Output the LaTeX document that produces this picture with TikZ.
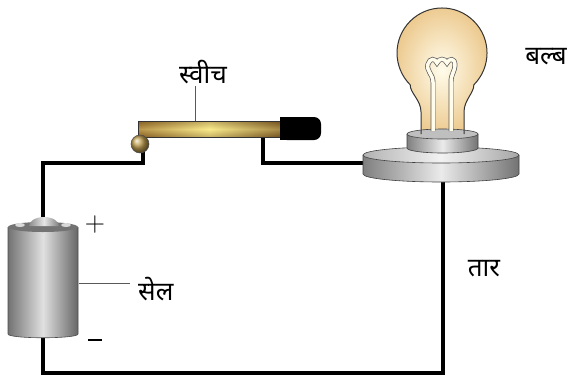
\documentclass[tikz,border=0pt]{standalone}
\usepackage{fontspec}
\newfontfamily\deva[Script=Devanagari]{Noto Sans}
\usetikzlibrary{shapes.geometric}
\definecolor{glowin}{RGB}{255,252,235}
\definecolor{glowout}{RGB}{236,200,140}
\definecolor{brass}{RGB}{150,105,40}
\definecolor{brasslight}{RGB}{250,235,140}
\tikzset{
  wire/.style={line width=4pt, black, line cap=rect},
  leader/.style={line width=0.8pt, gray!70!black},
  label/.style={font=\deva\fontsize{26}{30}\selectfont, inner sep=0pt},
  sign/.style={font=\fontsize{28}{30}\selectfont, inner sep=0pt},
  filament/.style={draw=black!65, line width=0.7pt, double=glowin, double distance=3.5pt},
}
\begin{document}
\begin{tikzpicture}[x=1pt, y=-1pt]
\useasboundingbox (0,0) rectangle (573,376);

% circuit wires
\coordinate (cellTop) at (43,222);
\coordinate (cellBot) at (43,338);
\coordinate (pivot) at (143,150);
\coordinate (contact) at (263,137);
\coordinate (baseL) at (365,163);
\coordinate (baseB) at (443,182);
\draw[wire] (cellTop) -- (43,163) -- (143,163) -- (pivot);
\draw[wire] (contact) -- (263,163) -- (baseL);
\draw[wire] (baseB) -- (443,373) -- (43,373) -- (cellBot);

% cell
\shade[left color=black!55, right color=black!60, middle color=black!12]
  (8,227) -- (8,334) .. controls (8,339) and (78,339) .. (78,334) -- (78,227) -- cycle;
\draw[black!70, line width=0.6pt]
  (8,227) -- (8,334) .. controls (8,339) and (78,339) .. (78,334) -- (78,227);
\fill[black!55] (43,227) ellipse[x radius=35, y radius=5];
\shade[left color=black!45, right color=black!50, middle color=black!10]
  (29,226) arc[start angle=180, end angle=360, x radius=15, y radius=9] -- cycle;
\fill[white!85!black] (20,225) ellipse[x radius=5, y radius=2];
\fill[white!85!black] (66,225) ellipse[x radius=5, y radius=2];
\node[sign] (plus) at (95,225) {+};
\node[sign] (minus) at (95,342) {\rule[0.3ex]{0.5em}{2pt}};
\coordinate (cellSide) at (79,283);
\node[label, anchor=west] (cell) at (138,289) {सेल};
\draw[leader] (cellSide) -- (130,283);

% switch
\shade[left color=brass, right color=brass!80!black, middle color=brasslight]
  (138,121) rectangle (281,137);
\shade[top color=brass!70!black, bottom color=brass!70!black, middle color=brasslight, opacity=0.35]
  (138,121) rectangle (281,137);
\draw[black!80, line width=0.6pt] (138,121) rectangle (281,137);
\shade[ball color=brass!60!brasslight] (140,144) circle[radius=9];
\draw[black!70, line width=0.5pt] (140,144) circle[radius=9];
\fill[black, rounded corners=7] (280,117) rectangle (321,140);
\fill[black] (280,117) rectangle (290,140);
\coordinate (leverTop) at (195,121);
\node[label] (switch) at (203,72) {स्वीच};
\draw[leader] (leverTop) -- (195,86);

% lamp holder
\shade[left color=black!50, right color=black!55, middle color=black!8]
  (363,155) -- (363,174) arc[start angle=180, end angle=0, x radius=78, y radius=8]
  -- (519,155) arc[start angle=0, end angle=180, x radius=78, y radius=8] -- cycle;
\draw[black!75, line width=0.6pt]
  (363,155) -- (363,174) arc[start angle=180, end angle=0, x radius=78, y radius=8] -- (519,155);
\shade[left color=black!30, right color=black!35, middle color=black!5]
  (441,155) ellipse[x radius=78, y radius=8];
\draw[black!75, line width=0.6pt] (441,155) ellipse[x radius=78, y radius=8];
\shade[left color=black!50, right color=black!55, middle color=black!8]
  (407,134) -- (407,148) arc[start angle=180, end angle=0, x radius=35.5, y radius=5]
  -- (478,134) arc[start angle=0, end angle=180, x radius=35.5, y radius=5] -- cycle;
\draw[black!75, line width=0.6pt]
  (407,134) -- (407,148) arc[start angle=180, end angle=0, x radius=35.5, y radius=5] -- (478,134);

% bulb glass
\shade[inner color=glowin, outer color=glowout]
  (421,136) -- (421,112) .. controls (421,100) and (410,93) .. (410.2,84.8)
  arc[start angle=135, end angle=405, radius=45]
  .. controls (474,93) and (464,100) .. (464,112) -- (464,136) -- cycle;
\fill[black!25] (442.5,134) ellipse[x radius=35.5, y radius=5];
\draw[black!80, line width=1pt]
  (421,134) -- (421,112) .. controls (421,100) and (410,93) .. (410.2,84.8)
  arc[start angle=135, end angle=405, radius=45]
  .. controls (474,93) and (464,100) .. (464,112) -- (464,134);
\draw[black!75, line width=0.6pt] (442.5,134) ellipse[x radius=35.5, y radius=5];

% filament
\draw[filament] (433,131) -- (433,82) .. controls (433,74) and (426,71) .. (428,64)
  .. controls (430,58) and (435,58) .. (437,63) .. controls (439,58) and (445,58) .. (447,63)
  .. controls (449,58) and (455,58) .. (455,65) .. controls (455,71) and (451,74) .. (451,82)
  -- (451,131);

% labels
\node[label] (bulb) at (546,57) {बल्ब};
\node[label] (wirelabel) at (484,269) {तार};
\end{tikzpicture}
\end{document}
